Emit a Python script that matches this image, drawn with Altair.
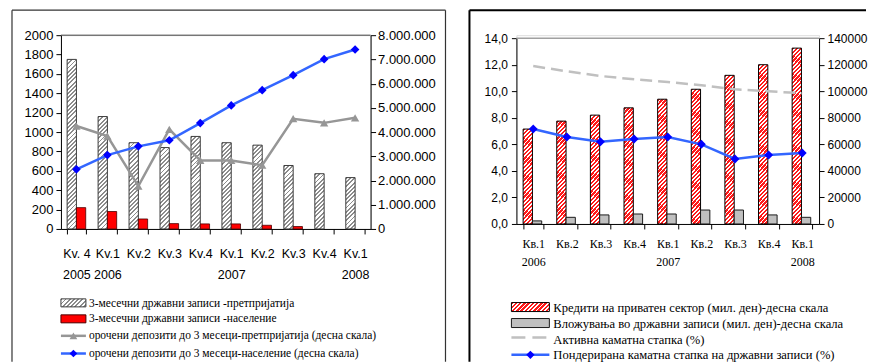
import math
import json
import altair as alt
import pandas as pd

# ---------------- data: left panel ----------------
left_keys = ["2005Q4", "2006Q1", "2006Q2", "2006Q3", "2006Q4",
             "2007Q1", "2007Q2", "2007Q3", "2007Q4", "2008Q1"]
left_quarters = ["Kv. 4", "Kv.1", "Kv.2", "Kv.3", "Kv.4", "Kv.1", "Kv.2", "Kv.3", "Kv.4", "Kv.1"]
left_years = ["2005", "2006", "", "", "", "2007", "", "", "", "2008"]
bills_enterprises = [1750, 1160, 890, 840, 955, 890, 865, 655, 570, 530]
bills_households = [220, 180, 103, 55, 52, 52, 38, 25, 0, 0]
deposits_enterprises = [4250000, 3835000, 1770000, 4110000, 2830000, 2830000, 2630000, 4550000, 4380000, 4590000]
deposits_households = [2460000, 3050000, 3410000, 3660000, 4370000, 5100000, 5730000, 6350000, 7010000, 7410000]

left_legend = [
    "3-месечни државни записи -претпријатија",
    "3-месечни државни записи -население",
    "орочени депозити до 3 месеци-претпријатија (десна скала)",
    "орочени депозити до 3 месеци-население (десна скала)",
]

# ---------------- data: right panel ----------------
right_keys = ["2006Q1", "2006Q2", "2006Q3", "2006Q4", "2007Q1",
              "2007Q2", "2007Q3", "2007Q4", "2008Q1"]
right_quarters = ["Кв.1", "Кв.2", "Кв.3", "Кв.4", "Кв.1", "Кв.2", "Кв.3", "Кв.4", "Кв.1"]
right_years = ["2006", "", "", "", "2007", "", "", "", "2008"]
credits_private = [71500, 77500, 82000, 87500, 94000, 101500, 112000, 120000, 132500]
bills_investment = [2300, 5000, 6800, 7500, 7500, 10500, 10500, 6800, 5000]
lending_rate = [11.9, 11.5, 11.15, 10.9, 10.7, 10.45, 10.15, 10.0, 9.85]
bills_rate = [7.15, 6.55, 6.2, 6.4, 6.55, 6.0, 4.9, 5.2, 5.35]

right_legend = [
    "Кредити на приватен сектор (мил. ден)-десна скала",
    "Вложувања во државни записи (мил. ден)-десна скала",
    "Активна каматна стапка (%)",
    "Пондерирана каматна стапка на државни записи (%)",
]

SANS = "Liberation Sans, Arial, Helvetica, sans-serif"
SERIF = "Liberation Serif, Times New Roman, Times, serif"

L_W, L_H = 310, 194
R_W, R_H = 303, 189
R_TOP = 3
PAD_IN, PAD_OUT = 0.4, 0.2

GRAY_LINE = "#969696"
BLUE_LINE = "#3366ff"
BLUE_MARK = "#0000ff"


def hatch(w, h, period, stripe, bg, frac):
    """diagonal '/' hatching emulated by a linear gradient"""
    a = (w + h) / (w * w + h * h)
    n = max((w + h) / (period * math.sqrt(2)), 1.0)
    ps = 1.0 / n
    stops = []
    t = 0.0
    while t < 1.0 - 1e-9:
        e1 = min(t + ps * frac, 1.0)
        e2 = min(t + ps, 1.0)
        stops += [(t, stripe), (e1, stripe), (e1, bg), (e2, bg)]
        t += ps
    return alt.LinearGradient(
        gradient="linear", x1=0, y1=0, x2=round(a * w, 5), y2=round(a * h, 5),
        stops=[alt.GradientStop(offset=round(o, 5), color=c) for o, c in stops])


one = pd.DataFrame({"d": [0]})


def label_expr(keys, quarters, years):
    pairs = [[q, y] for q, y in zip(quarters, years)]
    return f"{json.dumps(pairs, ensure_ascii=False)}[indexof({json.dumps(keys)}, datum.value)]"


def vrule(x, y1, y2, color, width):
    return alt.Chart(one).mark_rule(color=color, strokeWidth=width).encode(
        x=alt.value(x), y=alt.value(y1), y2=alt.value(y2))


def hrule(x1, x2, y, color, width, dash=None):
    kw = dict(color=color, strokeWidth=width)
    if dash:
        kw["strokeDash"] = dash
    return alt.Chart(one).mark_rule(**kw).encode(
        x=alt.value(x1), x2=alt.value(x2), y=alt.value(y))


def ltext(x, y, s, size):
    return alt.Chart(one).mark_text(align="left", baseline="middle", font=SERIF,
                                    fontSize=size, color="black").encode(
        x=alt.value(x), y=alt.value(y), text=alt.value(s))


def lrect(x1, x2, y1, y2, fill, stroke):
    return alt.Chart(one).mark_rect(fill=fill, stroke=stroke, strokeWidth=1).encode(
        x=alt.value(x1), x2=alt.value(x2), y=alt.value(y1), y2=alt.value(y2))


def lpoint(x, y, shape, color, size):
    return alt.Chart(one).mark_point(shape=shape, filled=True, fill=color, color=color,
                                     opacity=1, size=size).encode(
        x=alt.value(x), y=alt.value(y))


# ================= LEFT PANEL =================
left_df = pd.DataFrame({
    "key": left_keys,
    "be": bills_enterprises,
    "bh": bills_households,
    "de": deposits_enterprises,
    "dh": deposits_households,
})

x_left = alt.X("key:N", sort=left_keys,
               scale=alt.Scale(domain=left_keys, paddingInner=PAD_IN, paddingOuter=PAD_OUT),
               axis=alt.Axis(title=None, labelExpr=label_expr(left_keys, left_quarters, left_years),
                             labelFont=SANS, labelFontSize=12.5, labelColor="black", labelAngle=0,
                             labelLineHeight=21, labelPadding=14, tickBand="extent", tickSize=5,
                             tickColor="black", domainColor="black", labelOverlap=False,
                             grid=False))
xoff = alt.XOffset("s:N", scale=alt.Scale(domain=["a", "b"], paddingInner=0, paddingOuter=0))
y_left = alt.Y("v:Q", scale=alt.Scale(domain=[0, 2000], nice=False),
               axis=alt.Axis(title=None, orient="left", values=list(range(0, 2001, 200)), format="d",
                             labelFont=SANS, labelFontSize=13, labelColor="black", labelPadding=3,
                             tickSize=5, tickColor="black", domainColor="black", grid=False))
y_left_r = alt.Y("w:Q", scale=alt.Scale(domain=[0, 8000000], nice=False),
                 axis=alt.Axis(title=None, orient="right", values=list(range(0, 8000001, 1000000)),
                               format=",d", labelFont=SANS, labelFontSize=13, labelColor="black",
                               labelPadding=2, tickSize=5, tickColor="black", domainColor="black",
                               grid=False))

step_l = L_W / (len(left_keys) - PAD_IN + 2 * PAD_OUT)
bw_l = step_l * (1 - PAD_IN) / 2

left_bar_layers = []
for i, k in enumerate(left_keys):
    h = bills_enterprises[i] / 2000 * L_H
    g = hatch(bw_l, h, 3.0, "#8c8c8c", "#ffffff", 0.45)
    left_bar_layers.append(
        alt.Chart(left_df).transform_filter(alt.datum.key == k)
        .transform_calculate(v="datum.be", s="'a'")
        .mark_bar(fill=g, stroke="#3c3c3c", strokeWidth=1)
        .encode(x=x_left, xOffset=xoff, y=y_left))
left_bar_layers.append(
    alt.Chart(left_df).transform_filter(alt.datum.bh > 0)
    .transform_calculate(v="datum.bh", s="'b'")
    .mark_bar(fill="#ff0000", stroke="#4a0000", strokeWidth=0.8)
    .encode(x=x_left, xOffset=xoff, y=y_left))
left_bars = alt.layer(*left_bar_layers)

left_lines = alt.layer(
    alt.Chart(left_df).transform_calculate(w="datum.de")
    .mark_line(color=GRAY_LINE, strokeWidth=2.5,
               point=alt.OverlayMarkDef(shape="triangle-up", filled=True, fill=GRAY_LINE,
                                        color=GRAY_LINE, size=70, opacity=1))
    .encode(x=x_left, y=y_left_r),
    alt.Chart(left_df).transform_calculate(w="datum.dh")
    .mark_line(color=BLUE_LINE, strokeWidth=2.5,
               point=alt.OverlayMarkDef(shape="diamond", filled=True, fill=BLUE_MARK,
                                        color=BLUE_MARK, size=75, opacity=1))
    .encode(x=x_left, y=y_left_r),
)

# frame + legend (positions relative to the left plot area)
LB = 327
FT = -25
LFS = 11.5
left_deco = alt.layer(
    hrule(-49, 385, FT, "#333333", 1.2),
    vrule(-49, FT, LB, "#333333", 1.2),
    vrule(385, FT, LB, "#333333", 1.2),
    hrule(0, L_W, 0, "#404040", 1),
    lrect(0, 25, 264, 272, hatch(25, 8, 3.0, "#8c8c8c", "#ffffff", 0.45), "#3c3c3c"),
    ltext(28, 268.7, left_legend[0], LFS),
    lrect(0, 25, 280, 288, "#ff0000", "#4a0000"),
    ltext(28, 284.3, left_legend[1], LFS),
    hrule(0, 25, 301, GRAY_LINE, 2.5),
    lpoint(12.5, 301, "triangle-up", GRAY_LINE, 60),
    ltext(28, 301, left_legend[2], LFS),
    hrule(0, 25, 318.7, BLUE_LINE, 2.5),
    lpoint(12.5, 318.7, "diamond", BLUE_MARK, 60),
    ltext(28, 318.7, left_legend[3], LFS),
)

left = alt.layer(left_bars, left_lines, left_deco).resolve_scale(y="independent").properties(
    width=L_W, height=L_H)

# ================= RIGHT PANEL =================
right_df = pd.DataFrame({
    "key": right_keys,
    "cr": credits_private,
    "bi": bills_investment,
    "lr": lending_rate,
    "br": bills_rate,
})

x_right = alt.X("key:N", sort=right_keys,
                scale=alt.Scale(domain=right_keys, paddingInner=PAD_IN, paddingOuter=PAD_OUT),
                axis=alt.Axis(title=None, labelExpr=label_expr(right_keys, right_quarters, right_years),
                              labelFont=SERIF, labelFontSize=12, labelColor="black", labelAngle=0,
                              labelLineHeight=18, labelPadding=10, tickBand="extent", tickSize=5,
                              tickColor="black", domainColor="black", labelOverlap=False,
                              grid=False))
y_amt = alt.Y("v:Q", scale=alt.Scale(domain=[0, 140000], range=[R_H, R_TOP], nice=False),
              axis=alt.Axis(title=None, orient="right", values=list(range(0, 140001, 20000)),
                            format="d", labelFont=SANS, labelFontSize=12, labelColor="black",
                            labelPadding=3, tickSize=5, tickColor="black", domainColor="black",
                            grid=False))
y_pct = alt.Y("p:Q", scale=alt.Scale(domain=[0, 14], range=[R_H, R_TOP], nice=False),
              axis=alt.Axis(title=None, orient="left", values=list(range(0, 15, 2)),
                            format=".1f", labelFont=SANS, labelFontSize=12, labelColor="black",
                            labelPadding=4, tickSize=5, tickColor="black", domainColor="black",
                            grid=False))

step_r = R_W / (len(right_keys) - PAD_IN + 2 * PAD_OUT)
bw_r = step_r * (1 - PAD_IN) / 2
plot_h_r = R_H - R_TOP

right_bar_layers = []
for i, k in enumerate(right_keys):
    h = credits_private[i] / 140000 * plot_h_r
    g = hatch(bw_r, h, 3.0, "#ff1a1a", "#ffffff", 0.58)
    right_bar_layers.append(
        alt.Chart(right_df).transform_filter(alt.datum.key == k)
        .transform_calculate(v="datum.cr", s="'a'")
        .mark_bar(fill=g, stroke="#000000", strokeWidth=1)
        .encode(x=x_right, xOffset=xoff, y=y_amt))
right_bar_layers.append(
    alt.Chart(right_df).transform_calculate(v="datum.bi", s="'b'")
    .mark_bar(fill="#c0c0c0", stroke="#1a1a1a", strokeWidth=1)
    .encode(x=x_right, xOffset=xoff, y=y_amt))
right_bars = alt.layer(*right_bar_layers)

right_lines = alt.layer(
    alt.Chart(right_df).transform_calculate(p="datum.lr")
    .mark_line(color="#c0c0c0", strokeWidth=2.5, strokeDash=[12, 6])
    .encode(x=x_right, y=y_pct),
    alt.Chart(right_df).transform_calculate(p="datum.br")
    .mark_line(color=BLUE_LINE, strokeWidth=2.5,
               point=alt.OverlayMarkDef(shape="diamond", filled=True, fill=BLUE_MARK,
                                        color=BLUE_MARK, size=80, opacity=1))
    .encode(x=x_right, y=y_pct),
)

RFS = 12.6
right_deco = alt.layer(
    hrule(-47, 350, FT, "#000000", 2),
    vrule(-47, FT, LB, "#000000", 2),
    hrule(0, R_W, R_TOP, "#a0a0a0", 1.5),
    lrect(-5, 33, 267.7, 276.7, hatch(38, 9, 3.0, "#ff1a1a", "#ffffff", 0.58), "#000000"),
    ltext(37, 272.7, right_legend[0], RFS),
    lrect(-5, 33, 283.7, 292.7, "#c0c0c0", "#1a1a1a"),
    ltext(37, 289.3, right_legend[1], RFS),
    hrule(-5, 33, 302.7, "#c0c0c0", 2.5, [14, 7]),
    ltext(37, 305.3, right_legend[2], RFS),
    hrule(-5, 33, 320, BLUE_LINE, 2.5),
    lpoint(14, 320, "diamond", BLUE_MARK, 70),
    ltext(37, 320, right_legend[3], RFS),
)

right = alt.layer(right_bars, right_lines, right_deco).resolve_scale(y="independent").properties(
    width=R_W, height=R_H)

chart = alt.hconcat(left, right, spacing=146, bounds="flush").properties(
    padding={"left": 2, "top": 0, "right": 0, "bottom": 0}
).configure_view(stroke=None).configure(
    locale=alt.Locale(number=alt.NumberLocale(decimal=",", thousands=".", grouping=[3],
                                              currency=["", ""]))
)

chart.save("out.html", embed_options={"renderer": "svg", "actions": False})
